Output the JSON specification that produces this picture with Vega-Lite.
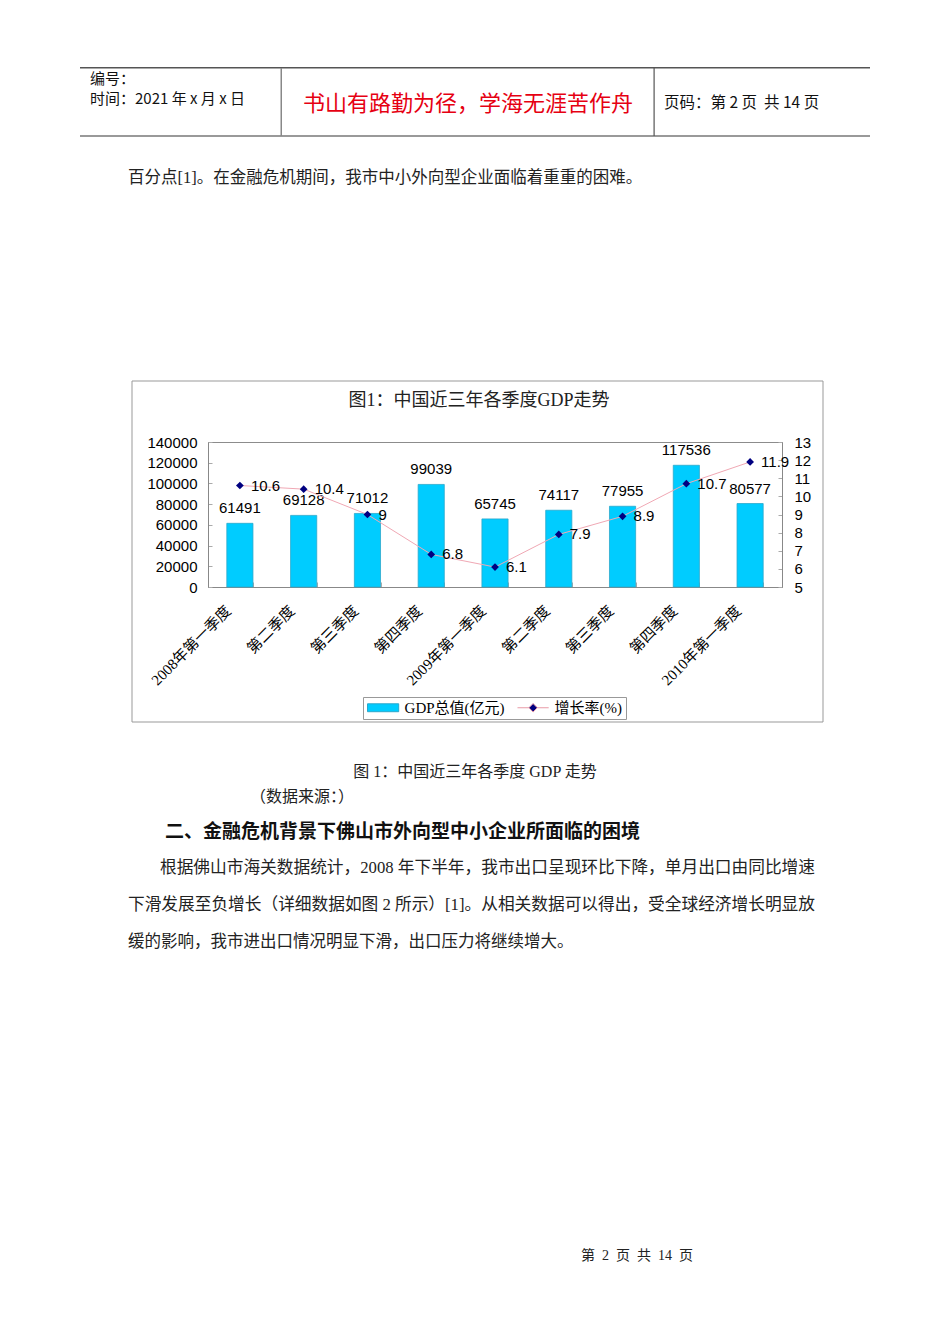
{
  "$schema": "https://vega.github.io/schema/vega-lite/v6.json",
  "width": 574,
  "height": 145,
  "autosize": {"type": "none"},
  "padding": {"left": 208, "top": 442, "right": 168, "bottom": 757},
  "background": "white",
  "config": {
    "view": {"stroke": "#8c8c8c", "strokeWidth": 1},
    "font": "Liberation Sans",
    "legend": {
      "title": null,
      "orient": "none",
      "legendX": 155,
      "legendY": 255,
      "direction": "horizontal",
      "strokeColor": "#999",
      "fillColor": "white",
      "padding": 3,
      "symbolSize": 144,
      "symbolOffset": 9.6,
      "symbolStrokeWidth": 1,
      "symbolOpacity": 1,
      "labelFont": "Liberation Serif, Noto Sans CJK SC",
      "labelFontSize": 15,
      "labelColor": "#000",
      "labelOffset": 14,
      "columnPadding": 10
    }
  },
  "datasets": {
    "gdp": [
      {"q": 1, "gdp": 61491, "growth": 10.6},
      {"q": 2, "gdp": 69128, "growth": 10.4},
      {"q": 3, "gdp": 71012, "growth": 9},
      {"q": 4, "gdp": 99039, "growth": 6.8},
      {"q": 5, "gdp": 65745, "growth": 6.1},
      {"q": 6, "gdp": 74117, "growth": 7.9},
      {"q": 7, "gdp": 77955, "growth": 8.9},
      {"q": 8, "gdp": 117536, "growth": 10.7},
      {"q": 9, "gdp": 80577, "growth": 11.9}
    ]
  },
  "layer": [
    {
      "data": {"values": [{}]},
      "mark": {"type": "rect", "x": -128, "y": -375, "x2": 662, "y2": -373.5, "fill": "#555"},
      "encoding": {}
    },
    {
      "data": {"values": [{}]},
      "mark": {"type": "rect", "x": -128, "y": -307, "x2": 662, "y2": -305, "fill": "#999"},
      "encoding": {}
    },
    {
      "data": {"values": [{}]},
      "mark": {"type": "rect", "x": 72.5, "y": -374, "x2": 74, "y2": -306, "fill": "#888"},
      "encoding": {}
    },
    {
      "data": {"values": [{}]},
      "mark": {"type": "rect", "x": 445.5, "y": -374, "x2": 446.7, "y2": -306, "fill": "#555"},
      "encoding": {}
    },
    {
      "data": {"values": [{}]},
      "mark": {"type": "text", "x": -118, "y": -363, "text": "编号：", "align": "left", "baseline": "middle", "font": "Noto Sans CJK SC", "fontSize": 15, "color": "#111"}
    },
    {
      "data": {"values": [{}]},
      "mark": {"type": "text", "x": -118, "y": -343, "text": "时间：2021 年 x 月 x 日", "align": "left", "baseline": "middle", "font": "Noto Sans CJK SC", "fontSize": 15, "color": "#111"}
    },
    {
      "data": {"values": [{}]},
      "mark": {"type": "text", "x": 260, "y": -338, "text": "书山有路勤为径，学海无涯苦作舟", "align": "center", "baseline": "middle", "font": "Noto Sans CJK SC", "fontSize": 22, "color": "#e60012"}
    },
    {
      "data": {"values": [{}]},
      "mark": {"type": "text", "x": 456, "y": -339, "text": "页码：第\u00a02\u00a0页\u00a0\u00a0共\u00a014\u00a0页", "align": "left", "baseline": "middle", "font": "Noto Sans CJK SC", "fontSize": 15.5, "color": "#111"}
    },
    {
      "data": {"values": [{}]},
      "mark": {"type": "text", "x": -80, "y": -264, "text": "百分点[1]。在金融危机期间，我市中小外向型企业面临着重重的困难。", "align": "left", "baseline": "middle", "font": "Liberation Serif, Noto Sans CJK SC", "fontSize": 16.5, "color": "#222"}
    },
    {
      "data": {"values": [{}]},
      "mark": {"type": "rect", "x": -76, "y": -61, "x2": 615, "y2": 280, "filled": false, "stroke": "#999", "strokeWidth": 1},
      "encoding": {}
    },
    {
      "data": {"values": [{}]},
      "mark": {"type": "text", "x": 271, "y": -41, "text": "图1：中国近三年各季度GDP走势", "align": "center", "baseline": "middle", "font": "Liberation Serif, Noto Sans CJK SC", "fontSize": 18, "color": "#222"}
    },
    {
      "data": {"values": [{}]},
      "mark": {"type": "text", "x": 267, "y": 330, "text": "图 1：中国近三年各季度 GDP 走势", "align": "center", "baseline": "middle", "font": "Liberation Serif, Noto Sans CJK SC", "fontSize": 16, "color": "#222"}
    },
    {
      "data": {"values": [{}]},
      "mark": {"type": "text", "x": 42, "y": 355, "text": "（数据来源：）", "align": "left", "baseline": "middle", "font": "Liberation Serif, Noto Sans CJK SC", "fontSize": 16, "color": "#222"}
    },
    {
      "data": {"values": [{}]},
      "mark": {"type": "text", "x": -43, "y": 390, "text": "二、金融危机背景下佛山市外向型中小企业所面临的困境", "align": "left", "baseline": "middle", "font": "Noto Sans CJK SC", "fontSize": 19, "fontWeight": "bold", "color": "#111"}
    },
    {
      "data": {"values": [{}]},
      "mark": {"type": "text", "x": -48, "y": 426, "text": "根据佛山市海关数据统计，2008 年下半年，我市出口呈现环比下降，单月出口由同比增速", "align": "left", "baseline": "middle", "font": "Liberation Serif, Noto Sans CJK SC", "fontSize": 16.7, "color": "#222"}
    },
    {
      "data": {"values": [{}]},
      "mark": {"type": "text", "x": -80, "y": 463, "text": "下滑发展至负增长（详细数据如图 2 所示）[1]。从相关数据可以得出，受全球经济增长明显放", "align": "left", "baseline": "middle", "font": "Liberation Serif, Noto Sans CJK SC", "fontSize": 16.7, "color": "#222"}
    },
    {
      "data": {"values": [{}]},
      "mark": {"type": "text", "x": -80, "y": 500, "text": "缓的影响，我市进出口情况明显下滑，出口压力将继续增大。", "align": "left", "baseline": "middle", "font": "Liberation Serif, Noto Sans CJK SC", "fontSize": 16.5, "color": "#222"}
    },
    {
      "data": {"values": [{}]},
      "mark": {"type": "text", "x": 429, "y": 814, "text": "第\u00a0\u00a02\u00a0\u00a0页\u00a0\u00a0共\u00a0\u00a014\u00a0\u00a0页", "align": "center", "baseline": "middle", "font": "Liberation Serif, Noto Sans CJK SC", "fontSize": 14, "color": "#222"}
    },
    {
      "data": {"name": "gdp"},
      "encoding": {
        "x": {
          "field": "q",
          "type": "ordinal",
          "scale": {"paddingInner": 0.59, "paddingOuter": 0.295},
          "axis": {
            "title": null,
            "labelExpr": "['2008年第一季度','第二季度','第三季度','第四季度','2009年第一季度','第二季度','第三季度','第四季度','2010年第一季度'][datum.value - 1]",
            "labelAngle": -45,
            "labelAlign": "right",
            "labelBaseline": "top",
            "labelFont": "Liberation Serif, Noto Sans CJK SC",
            "labelFontSize": 15,
            "labelColor": "#000",
            "labelPadding": 21,
            "labelOffset": -17,
            "tickBand": "extent",
            "tickSize": -5,
            "tickColor": "#aaa",
            "domainColor": "#888",
            "grid": false
          }
        },
        "y": {
          "field": "gdp",
          "type": "quantitative",
          "scale": {"domain": [0, 140000], "nice": false},
          "axis": {
            "title": null,
            "values": [0, 20000, 40000, 60000, 80000, 100000, 120000, 140000],
            "format": "d",
            "labelFont": "Liberation Sans",
            "labelFontSize": 15,
            "labelColor": "#000",
            "labelPadding": 15,
            "tickSize": -4,
            "tickColor": "#aaa",
            "domainColor": "#888",
            "grid": false
          }
        }
      },
      "layer": [
        {
          "mark": {"type": "bar", "stroke": "#2aa8cc", "strokeWidth": 0.8},
          "encoding": {
            "color": {
              "datum": "GDP总值(亿元)",
              "type": "nominal",
              "scale": {"domain": ["GDP总值(亿元)", "增长率(%)"], "range": ["#00CCFF", "#000080"]},
              "legend": {
                "encode": {
                  "symbols": {
                    "update": {
                      "shape": {"signal": "datum.value === 'GDP总值(亿元)' ? 'M-2.6,-0.66H2.6V0.66H-2.6Z' : 'M-2.6,0H-0.7M0.7,0H2.6M0,-0.7L0.7,0L0,0.7L-0.7,0Z'"},
                      "stroke": {"signal": "datum.value === 'GDP总值(亿元)' ? '#2aa8cc' : '#e89aa6'"},
                      "strokeWidth": {"value": 1}
                    }
                  }
                }
              }
            }
          }
        },
        {
          "mark": {"type": "text", "baseline": "middle", "dy": -15, "font": "Liberation Sans", "fontSize": 15, "color": "#000"},
          "encoding": {
            "text": {"field": "gdp", "type": "quantitative", "format": "d"}
          }
        }
      ]
    },
    {
      "data": {"name": "gdp"},
      "encoding": {
        "x": {
          "field": "q",
          "type": "ordinal",
          "scale": {"paddingInner": 0.59, "paddingOuter": 0.295},
          "axis": {
            "title": null,
            "labelExpr": "['2008年第一季度','第二季度','第三季度','第四季度','2009年第一季度','第二季度','第三季度','第四季度','2010年第一季度'][datum.value - 1]",
            "labelAngle": -45,
            "labelAlign": "right",
            "labelBaseline": "top",
            "labelFont": "Liberation Serif, Noto Sans CJK SC",
            "labelFontSize": 15,
            "labelColor": "#000",
            "labelPadding": 21,
            "labelOffset": -17,
            "tickBand": "extent",
            "tickSize": -5,
            "tickColor": "#aaa",
            "domainColor": "#888",
            "grid": false
          }
        },
        "y": {
          "field": "growth",
          "type": "quantitative",
          "scale": {"domain": [5, 13], "nice": false, "zero": false},
          "axis": {
            "title": null,
            "orient": "right",
            "values": [5, 6, 7, 8, 9, 10, 11, 12, 13],
            "format": "d",
            "labelFont": "Liberation Sans",
            "labelFontSize": 15,
            "labelColor": "#000",
            "labelPadding": 16,
            "tickSize": -4,
            "tickColor": "#aaa",
            "domainColor": "#888",
            "grid": false
          }
        }
      },
      "layer": [
        {
          "mark": {"type": "line", "color": "#f0a8b4", "strokeWidth": 1}
        },
        {
          "mark": {"type": "point", "shape": "diamond", "filled": true, "size": 60, "opacity": 1},
          "encoding": {
            "color": {
              "datum": "增长率(%)",
              "type": "nominal",
              "legend": {
                "encode": {
                  "symbols": {
                    "update": {
                      "shape": {"signal": "datum.value === 'GDP总值(亿元)' ? 'M-2.6,-0.66H2.6V0.66H-2.6Z' : 'M-2.6,0H-0.7M0.7,0H2.6M0,-0.7L0.7,0L0,0.7L-0.7,0Z'"},
                      "stroke": {"signal": "datum.value === 'GDP总值(亿元)' ? '#2aa8cc' : '#e89aa6'"},
                      "strokeWidth": {"value": 1}
                    }
                  }
                }
              }
            }
          }
        },
        {
          "mark": {"type": "text", "align": "left", "baseline": "middle", "dx": 11, "font": "Liberation Sans", "fontSize": 15, "color": "#000"},
          "encoding": {
            "text": {"field": "growth", "type": "quantitative"}
          }
        }
      ]
    }
  ],
  "resolve": {"scale": {"y": "independent"}}
}
